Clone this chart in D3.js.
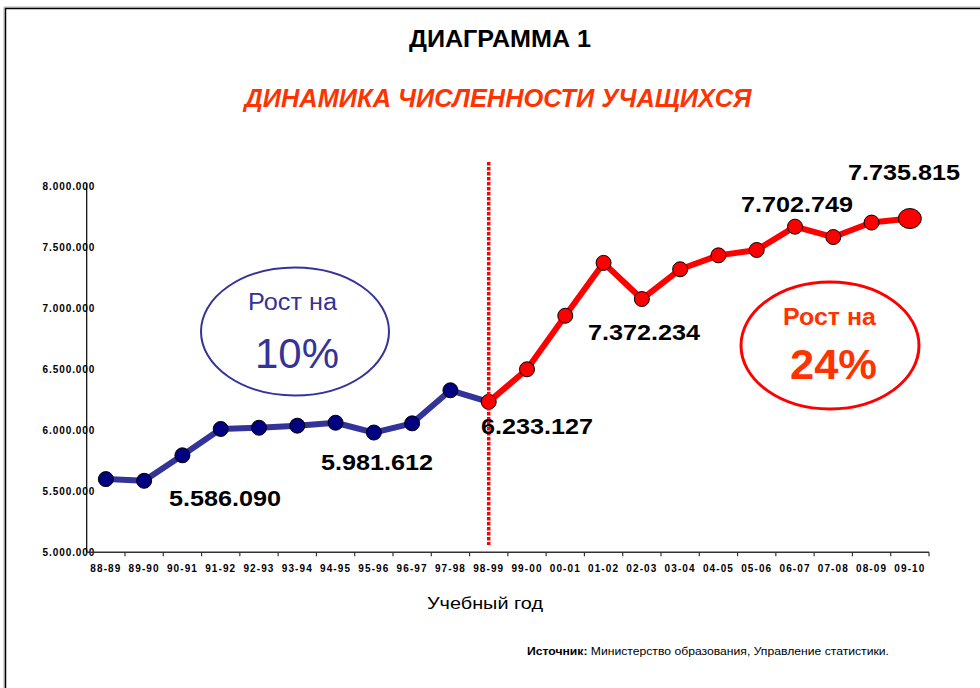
<!DOCTYPE html>
<html><head><meta charset="utf-8">
<script src="https://cdn.jsdelivr.net/npm/d3@7/dist/d3.min.js"></script>
<style>html,body{margin:0;padding:0;background:#fff;}svg{display:block;font-family:Arial,"Liberation Sans",sans-serif;}</style>
</head><body>
<script>
const categories = ["88-89","89-90","90-91","91-92","92-93","93-94","94-95","95-96","96-97","97-98","98-99","99-00","00-01","01-02","02-03","03-04","04-05","05-06","06-07","07-08","08-09","09-10"];
const blueCats = categories.slice(0, 11);
const blueValues = [5600000, 5586090, 5795000, 6011000, 6021000, 6038000, 6062000, 5981612, 6057000, 6328000, 6233127];
const redCats = categories.slice(10);
const redValues = [6233127, 6500000, 6939000, 7372234, 7076000, 7320000, 7434000, 7478000, 7669000, 7584000, 7702749, 7735815];
const yTicks = [5000000, 5500000, 6000000, 6500000, 7000000, 7500000, 8000000];
const valueLabels = [
  {text: "5.586.090", x: 225, y: 506},
  {text: "5.981.612", x: 377, y: 470},
  {text: "6.233.127", x: 537, y: 434},
  {text: "7.372.234", x: 644, y: 340},
  {text: "7.702.749", x: 797, y: 212},
  {text: "7.735.815", x: 904, y: 180}
];

const W = 980, H = 688;
const svg = d3.select("body").append("svg").attr("width", W).attr("height", H);

// frame
svg.append("line").attr("x1",4).attr("x2",W).attr("y1",7).attr("y2",7).attr("stroke","#aaa").attr("stroke-width",1);
svg.append("line").attr("x1",4).attr("x2",4).attr("y1",7).attr("y2",H).attr("stroke","#aaa").attr("stroke-width",1);
svg.append("line").attr("x1",5).attr("x2",W).attr("y1",8.5).attr("y2",8.5).attr("stroke","#000").attr("stroke-width",1.5);
svg.append("line").attr("x1",5.5).attr("x2",5.5).attr("y1",8).attr("y2",H).attr("stroke","#000").attr("stroke-width",1.5);

// titles
svg.append("text").attr("x",500).attr("y",47).attr("text-anchor","middle")
  .attr("font-size",23).attr("font-weight","bold").attr("fill","#000")
  .attr("textLength",182).attr("lengthAdjust","spacingAndGlyphs").text("ДИАГРАММА 1");
svg.append("text").attr("x",498).attr("y",107).attr("text-anchor","middle")
  .attr("font-size",26).attr("font-weight","bold").attr("font-style","italic").attr("fill","#ff3300")
  .attr("textLength",507).attr("lengthAdjust","spacingAndGlyphs").text("ДИНАМИКА ЧИСЛЕННОСТИ УЧАЩИХСЯ");

const x0 = 86.7, x1 = 929;
const x = d3.scaleBand().domain(categories).range([x0, x1]).padding(0);
const y = d3.scaleLinear().domain([5000000, 8000000]).range([552.3, 186.3]);
const cx = c => x(c) + x.bandwidth()/2;
const fmt = v => d3.format(",")(v).replace(/,/g, ".");

// y axis
const yAxis = svg.append("g").attr("transform",`translate(${x0},0)`)
  .call(d3.axisLeft(y).tickValues(yTicks).tickSize(0).tickPadding(-8.5).tickFormat(fmt));
yAxis.select(".domain").attr("stroke","#000").attr("stroke-width",1.2).attr("d",`M0,183V${y(5000000)}`);
yAxis.selectAll("text").attr("font-size",10).attr("font-weight","bold").attr("fill","#000")
  .attr("font-family","Arial, 'Liberation Sans', sans-serif").attr("letter-spacing",0.9).attr("dy","0.35em");

// x axis
const xAxis = svg.append("g").attr("transform",`translate(0,${y(5000000)})`)
  .call(d3.axisBottom(x).tickSize(0).tickPadding(13));
xAxis.select(".domain").attr("stroke","#333").attr("stroke-width",1.5).attr("d",`M${x0},0H${x1}`);
xAxis.selectAll("text").attr("font-size",10).attr("font-weight","bold").attr("fill","#000")
  .attr("font-family","Arial, 'Liberation Sans', sans-serif").attr("letter-spacing",1.1);
const bounds = categories.map(c => x(c)).concat([x(categories[categories.length-1]) + x.bandwidth()]);
xAxis.selectAll("line.bt").data(bounds.slice(1)).enter().append("line").attr("class","bt")
  .attr("x1",d=>d).attr("x2",d=>d).attr("y1",0).attr("y2",4).attr("stroke","#333").attr("stroke-width",1.2);

// axis title
svg.append("text").attr("x",485).attr("y",609).attr("text-anchor","middle").attr("font-size",17).attr("fill","#000")
  .attr("textLength",116).attr("lengthAdjust","spacingAndGlyphs").text("Учебный год");

// ellipses
svg.append("ellipse").attr("cx",295).attr("cy",331.5).attr("rx",94).attr("ry",64).attr("fill","none").attr("stroke","#333399").attr("stroke-width",2);
svg.append("text").attr("x",292.5).attr("y",310).attr("text-anchor","middle").attr("font-size",23.5).attr("fill","#333399")
  .attr("textLength",89).attr("lengthAdjust","spacingAndGlyphs").text("Рост на");
svg.append("text").attr("x",297).attr("y",368).attr("text-anchor","middle").attr("font-size",42).attr("fill","#333399")
  .attr("textLength",84).attr("lengthAdjust","spacingAndGlyphs").text("10%");

svg.append("ellipse").attr("cx",830).attr("cy",345.5).attr("rx",89).attr("ry",63.5).attr("fill","none").attr("stroke","#ff0000").attr("stroke-width",3);
svg.append("text").attr("x",829.5).attr("y",325).attr("text-anchor","middle").attr("font-size",23).attr("font-weight","bold").attr("fill","#ff3300")
  .attr("textLength",93).attr("lengthAdjust","spacingAndGlyphs").text("Рост на");
svg.append("text").attr("x",833.5).attr("y",379).attr("text-anchor","middle").attr("font-size",43).attr("font-weight","bold").attr("fill","#ff3300")
  .attr("textLength",87).attr("lengthAdjust","spacingAndGlyphs").text("24%");

// lines
const blueData = blueCats.map((c,i)=>({c, v: blueValues[i]}));
const redData = redCats.map((c,i)=>({c, v: redValues[i]}));
const line = d3.line().x(d=>cx(d.c)).y(d=>y(d.v));
svg.append("path").datum(blueData).attr("d",line).attr("fill","none").attr("stroke","#333399").attr("stroke-width",6).attr("stroke-linejoin","round");
svg.append("path").datum(redData).attr("d",line).attr("fill","none").attr("stroke","#ff0000").attr("stroke-width",6).attr("stroke-linejoin","round");

svg.selectAll("circle.b").data(blueData.slice(0,10)).enter().append("circle").attr("class","b")
  .attr("cx",d=>cx(d.c)).attr("cy",d=>y(d.v)).attr("r",7.5).attr("fill","#000080").attr("stroke","#000").attr("stroke-width",1);
svg.selectAll("ellipse.r").data(redData).enter().append("ellipse").attr("class","r")
  .attr("cx",d=>cx(d.c)).attr("cy",d=>y(d.v))
  .attr("rx",(d,i)=> i===redData.length-1 ? 11.5 : 7.5)
  .attr("ry",(d,i)=> i===redData.length-1 ? 10 : 7.5)
  .attr("fill","#ff0000").attr("stroke","#000").attr("stroke-width",1);

// dashed divider
svg.append("line").attr("x1",cx("98-99")).attr("x2",cx("98-99")).attr("y1",162).attr("y2",545)
  .attr("stroke","#ff0000").attr("stroke-width",3.5).attr("stroke-dasharray","3.5,1.5");

// value labels
svg.selectAll("text.vl").data(valueLabels).enter().append("text").attr("class","vl")
  .attr("x",d=>d.x).attr("y",d=>d.y).attr("text-anchor","middle").attr("font-size",22.5).attr("font-weight","bold")
  .attr("fill","#000").attr("textLength",112).attr("lengthAdjust","spacingAndGlyphs").text(d=>d.text);

// source
const src = svg.append("text").attr("x",527).attr("y",655).attr("font-size",10.5).attr("fill","#000")
  .attr("textLength",362).attr("lengthAdjust","spacingAndGlyphs");
src.append("tspan").attr("font-weight","bold").text("Источник:");
src.append("tspan").text(" Министерство образования,  Управление статистики.");
</script>
</body></html>
